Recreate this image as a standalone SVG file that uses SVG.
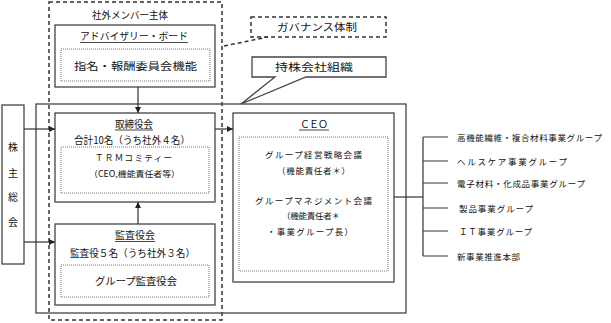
<svg xmlns="http://www.w3.org/2000/svg" width="611" height="323" viewBox="0 0 611 323">
<defs>
<style>
text{font-family:"Noto Sans CJK JP","Noto Sans CJK SC",sans-serif;fill:#111;font-size:10px}
.box{fill:none;stroke:#444;stroke-width:1.3}
.dot{fill:none;stroke:#777;stroke-width:1;stroke-dasharray:1,1}
.dash{fill:none;stroke:#333;stroke-width:1.5;stroke-dasharray:4,3}
.ln{fill:none;stroke:#333;stroke-width:1.2}
.ul{stroke:#333;stroke-width:0.9}
.sm{font-size:8.5px}
</style>
<marker id="ah" viewBox="0 0 8 8" refX="8" refY="4" markerWidth="6" markerHeight="6" orient="auto" markerUnits="userSpaceOnUse">
<path d="M0,0 L8,4 L0,8 Z" fill="#222"/>
</marker>
</defs>
<rect width="611" height="323" fill="#fff"/>

<g id="outside-members">
<rect class="dash" x="49" y="2" width="173" height="318"/>
<text x="92" y="19" textLength="76" lengthAdjust="spacingAndGlyphs">社外メンバー主体</text>
</g>

<g id="governance">
<rect class="dash" x="251" y="17" width="135" height="20"/>
<text x="277" y="31" font-size="11" textLength="80" lengthAdjust="spacingAndGlyphs">ガバナンス体制</text>
</g>

<g id="holding-label">
<path class="box" d="M252,57 H386 V77 H306 L241,104 L275,77 H252 Z" fill="#fff"/>
<text x="275" y="71" font-size="11.5" textLength="78" lengthAdjust="spacingAndGlyphs">持株会社組織</text>
</g>

<g id="holding">
<rect class="box" x="36" y="104" width="370" height="209"/>
</g>

<g id="advisory-board">
<rect class="box" x="55" y="25" width="160" height="62"/>
<text x="80" y="40" textLength="108" lengthAdjust="spacingAndGlyphs">アドバイザリー・ボード</text>
<line class="ul" x1="80" y1="42.5" x2="188" y2="42.5"/>
<rect class="dot" x="61" y="49" width="149" height="32"/>
<text x="74" y="70" font-size="12" textLength="123" lengthAdjust="spacingAndGlyphs">指名・報酬委員会機能</text>
</g>

<g id="shareholders">
<rect class="box" x="2" y="105" width="22" height="159"/>
<text x="13" y="151" text-anchor="middle">株</text>
<text x="13" y="177" text-anchor="middle">主</text>
<text x="13" y="201" text-anchor="middle">総</text>
<text x="13" y="226" text-anchor="middle">会</text>
</g>

<g id="board">
<rect class="box" x="55" y="113" width="160" height="89"/>
<text x="115" y="128" textLength="38" lengthAdjust="spacingAndGlyphs">取締役会</text>
<line class="ul" x1="115" y1="130" x2="153" y2="130"/>
<text x="74" y="144" textLength="116" lengthAdjust="spacingAndGlyphs">合計10名（うち社外４名）</text>
<rect class="dot" x="61" y="147" width="148" height="46"/>
<text class="sm" x="95" y="161" textLength="77" lengthAdjust="spacing">ＴＲＭコミティー</text>
<text class="sm" x="89" y="177" textLength="91" lengthAdjust="spacingAndGlyphs">（CEO,機能責任者等）</text>
</g>

<g id="auditors">
<rect class="box" x="55" y="224" width="160" height="81"/>
<text x="115" y="239" textLength="40" lengthAdjust="spacingAndGlyphs">監査役会</text>
<line class="ul" x1="115" y1="241.5" x2="155" y2="241.5"/>
<text x="70" y="257" textLength="125" lengthAdjust="spacingAndGlyphs">監査役５名（うち社外３名）</text>
<rect class="dot" x="61" y="265" width="148" height="32"/>
<text x="95" y="285" textLength="82" lengthAdjust="spacingAndGlyphs">グループ監査役会</text>
</g>

<g id="ceo">
<rect class="box" x="233" y="113" width="161" height="169"/>
<text x="300" y="128" textLength="28" lengthAdjust="spacing">ＣＥＯ</text>
<line class="ul" x1="299" y1="130" x2="329" y2="130"/>
<rect class="dot" x="239" y="137" width="149" height="134"/>
<text class="sm" x="265" y="158" textLength="97" lengthAdjust="spacing">グループ経営戦略会議</text>
<text class="sm" x="277" y="174" textLength="73" lengthAdjust="spacing">（機能責任者＊）</text>
<text class="sm" x="255" y="204" textLength="117" lengthAdjust="spacing">グループマネジメント会議</text>
<text class="sm" x="282" y="219" textLength="58" lengthAdjust="spacing">（機能責任者＊</text>
<text class="sm" x="267" y="235" textLength="86" lengthAdjust="spacing">・事業グループ長）</text>
</g>

<g id="groups">
<text class="sm" x="457" y="140.5" textLength="145" lengthAdjust="spacing">高機能繊維・複合材料事業グループ</text>
<text class="sm" x="457" y="164.5" textLength="110" lengthAdjust="spacing">ヘルスケア事業グループ</text>
<text class="sm" x="457" y="186.5" textLength="128" lengthAdjust="spacing">電子材料・化成品事業グループ</text>
<text class="sm" x="459" y="211.5" textLength="74" lengthAdjust="spacing">製品事業グループ</text>
<text class="sm" x="459" y="234.5" textLength="73" lengthAdjust="spacing">ＩＴ事業グループ</text>
<text class="sm" x="457" y="259.5" textLength="63" lengthAdjust="spacing">新事業推進本部</text>
</g>

<g id="connectors">
<line class="dash" x1="224" y1="46" x2="268" y2="37" stroke-width="1.8"/>
<line class="ln" x1="138" y1="87" x2="138" y2="113" marker-end="url(#ah)"/>
<line class="ln" x1="138" y1="224" x2="138" y2="202" marker-end="url(#ah)"/>
<line class="ln" x1="24" y1="129" x2="55" y2="129" marker-end="url(#ah)"/>
<line class="ln" x1="24" y1="242" x2="55" y2="242" marker-end="url(#ah)"/>
<line class="ln" x1="215" y1="129" x2="233" y2="129" marker-end="url(#ah)"/>
<line class="ln" x1="394" y1="197" x2="423" y2="197"/>
<line class="ln" x1="423" y1="137" x2="423" y2="256"/>
<path class="ln" d="M423,137 H448 M423,161 H448 M423,183 H448 M423,208 H448 M423,231 H448 M423,256 H448"/>
</g>
</svg>
